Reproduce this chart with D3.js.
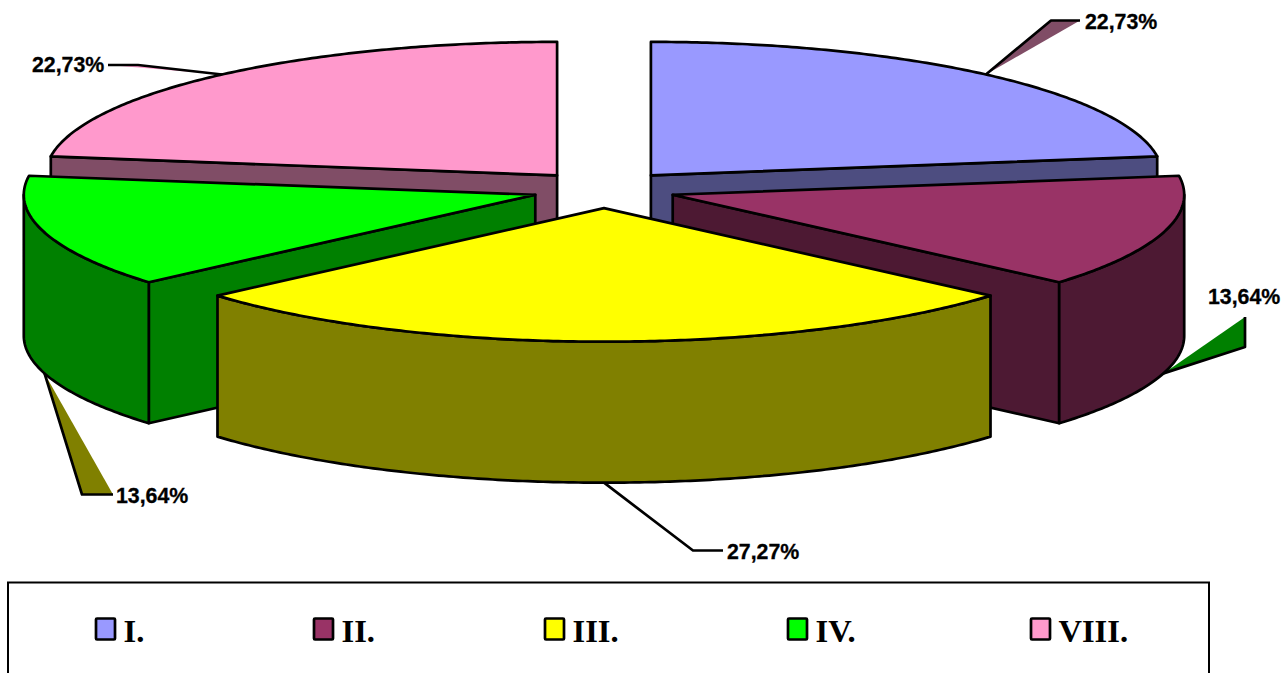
<!DOCTYPE html>
<html>
<head>
<meta charset="utf-8">
<script src="https://cdn.jsdelivr.net/npm/d3@7/dist/d3.min.js"></script>
<style>
html,body{margin:0;padding:0;background:#fff;overflow:hidden}
svg{display:block}
</style>
</head>
<body>
<svg id="chart" width="1285" height="673"></svg>
<script>
const categories = ["I.", "II.", "III.", "IV.", "VIII."];
const values = [22.73, 13.64, 27.27, 13.64, 22.73];
const valueLabels = ["22,73%", "13,64%", "27,27%", "13,64%", "22,73%"];
const topColors = ["#9999ff", "#993366", "#ffff00", "#00ff00", "#ff99cc"];
const sideColors = ["#4d4d80", "#4d1933", "#808000", "#008000", "#804d66"];
const leaderFills = ["#804d66", "#008000", "none", "#808000", "#ff99cc"];

// layout of annotations and legend (not data)
const leaderBends = [[[1051,20.5],[1080,20.5]], [[1245,347],[1245,317]], [[693,550.5],[723,550.5]], [[82,494.5],[113,494.5]], [[138,65],[108,65]]];
const labelAnchors = [[1085,28.5], [1208,303.5], [727,558.5], [116,502.5], [32,71.5]];
const legendMarkerX = [96, 314, 545, 788, 1031];

const svg = d3.select("#chart");
const cx = 604, cy = 189.5, rx = 511.5, ry = 133.5, explode = 0.14, depthPx = 141;
const X = d3.scaleLinear().domain([-1, 1]).range([cx - rx, cx + rx]);
const Y = d3.scaleLinear().domain([-1, 1]).range([cy + ry, cy - ry]);
const pathLine = d3.line().x(d => d[0]).y(d => d[1]);

const slices = d3.pie().sort(null).value(d => d)(values).map((s, i) => ({...s, i, mid: (s.startAngle + s.endAngle) / 2}));

function pt(s, r, a, z) {
  return [X(explode * Math.sin(s.mid) + r * Math.sin(a)),
          Y(explode * Math.cos(s.mid) + r * Math.cos(a)) + (z ? depthPx : 0)];
}
function arcPts(s, a0, a1, z) {
  const n = Math.max(2, Math.ceil((a1 - a0) / 0.01));
  return d3.range(n + 1).map(k => pt(s, 1, a0 + (a1 - a0) * k / n, z));
}
function wallPath(s, a) {
  return pathLine([pt(s, 0, a, false), pt(s, 1, a, false), pt(s, 1, a, true), pt(s, 0, a, true)]) + "Z";
}
function rimPath(s) {
  const a0 = Math.max(s.startAngle, Math.PI / 2), a1 = Math.min(s.endAngle, 3 * Math.PI / 2);
  if (a1 <= a0) return null;
  return pathLine(arcPts(s, a0, a1, false).concat(arcPts(s, a0, a1, true).reverse())) + "Z";
}
function topPath(s) {
  return pathLine([pt(s, 0, s.startAngle, false)].concat(arcPts(s, s.startAngle, s.endAngle, false))) + "Z";
}

function applyStroke(sel) {
  return sel.attr("stroke", "#000").attr("stroke-width", 2.7).attr("stroke-linejoin", "round");
}

// leaders go under the pie
const leaders = svg.append("g");
slices.forEach(s => {
  const frontRim = Math.cos(s.mid) < 0;
  const start = pt(s, 1, s.mid, frontRim);
  applyStroke(leaders.append("path"))
    .attr("d", pathLine([start].concat(leaderBends[s.i])))
    .attr("fill", leaderFills[s.i]);
});

// pie drawn back to front
const order = slices.slice().sort((a, b) => d3.descending(Math.cos(a.mid), Math.cos(b.mid)));
const pieG = svg.append("g");
order.forEach(s => {
  const g = pieG.append("g");
  if (Math.sin(s.endAngle) > 1e-6) applyStroke(g.append("path")).attr("d", wallPath(s, s.endAngle)).attr("fill", sideColors[s.i]);
  if (Math.sin(s.startAngle) < -1e-6) applyStroke(g.append("path")).attr("d", wallPath(s, s.startAngle)).attr("fill", sideColors[s.i]);
  const r = rimPath(s);
  if (r) applyStroke(g.append("path")).attr("d", r).attr("fill", sideColors[s.i]);
  applyStroke(g.append("path")).attr("d", topPath(s)).attr("fill", topColors[s.i]);
});

// value labels
svg.append("g").selectAll("text").data(slices).join("text")
  .attr("x", s => labelAnchors[s.i][0])
  .attr("y", s => labelAnchors[s.i][1])
  .attr("font-family", "'Liberation Sans', Arial, sans-serif")
  .attr("font-weight", "bold")
  .attr("font-size", 21.3)
  .attr("fill", "#000")
  .attr("stroke", "#000")
  .attr("stroke-width", 0.3)
  .text(s => valueLabels[s.i]);

// legend
const legend = svg.append("g");
legend.append("rect").attr("x", 8).attr("y", 582.5).attr("width", 1201).attr("height", 110)
  .attr("fill", "#fff").attr("stroke", "#000").attr("stroke-width", 2);
categories.forEach((c, i) => {
  legend.append("rect").attr("x", legendMarkerX[i]).attr("y", 618.5).attr("width", 19).attr("height", 21)
    .attr("rx", 1).attr("fill", topColors[i]).attr("stroke", "#000").attr("stroke-width", 2.7);
  legend.append("text").attr("x", legendMarkerX[i] + 27.5).attr("y", 641.5)
    .attr("font-family", "'Liberation Serif', 'Times New Roman', serif")
    .attr("font-weight", "bold").attr("font-size", 32.5).attr("fill", "#000").text(c);
});
</script>
</body>
</html>
